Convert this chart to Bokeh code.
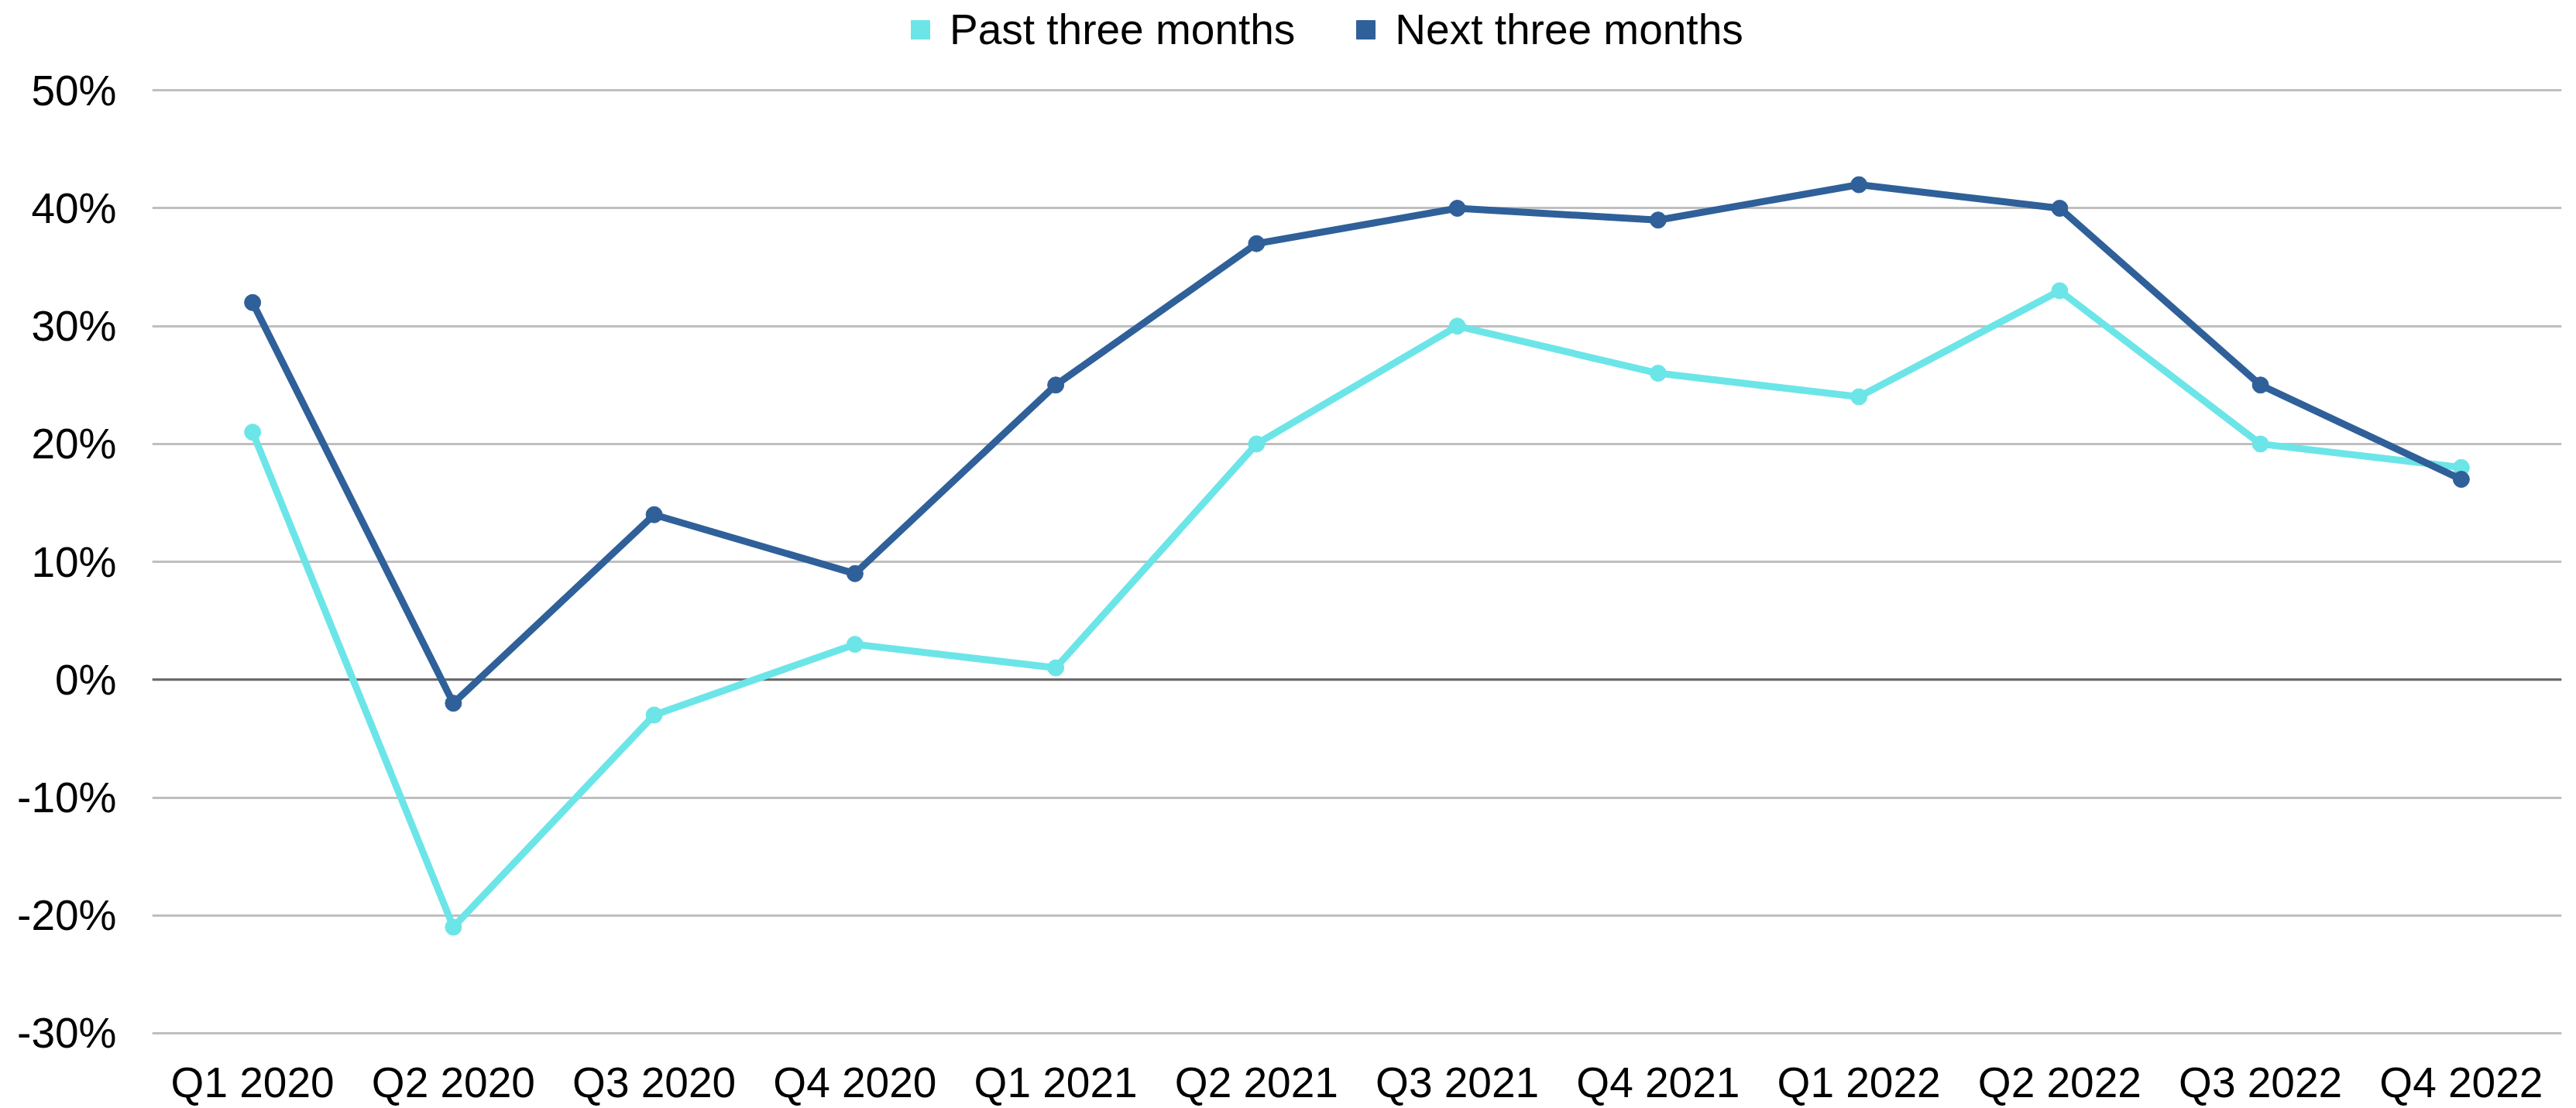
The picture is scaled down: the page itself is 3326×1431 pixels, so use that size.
from bokeh.plotting import figure
from bokeh.models import FixedTicker, Span, Legend, LegendItem, Range1d
from bokeh.embed import file_html
from bokeh.resources import INLINE

quarters = ["Q1 2020", "Q2 2020", "Q3 2020", "Q4 2020",
            "Q1 2021", "Q2 2021", "Q3 2021", "Q4 2021",
            "Q1 2022", "Q2 2022", "Q3 2022", "Q4 2022"]
past_three_months = [21, -21, -3, 3, 1, 20, 30, 26, 24, 33, 20, 18]
next_three_months = [32, -2, 14, 9, 25, 37, 40, 39, 42, 40, 25, 17]
y_ticks = [-30, -20, -10, 0, 10, 20, 30, 40, 50]
y_tick_labels = {t: f"{t}%" for t in y_ticks}
series_names = ["Past three months", "Next three months"]

C_PAST = "#6CE5E8"
C_NEXT = "#2F6099"
FONT = "Liberation Sans"
FS = "55px"

p = figure(width=3326, height=1431, x_range=quarters,
           y_range=Range1d(-30.4, 57.64),
           output_backend="svg", toolbar_location=None,
           min_border_left=196, min_border_right=19,
           min_border_top=0, min_border_bottom=88)
p.outline_line_color = None
p.background_fill_color = "white"
p.border_fill_color = "white"

p.xgrid.grid_line_color = None
p.ygrid.grid_line_color = "#BFBFBF"
p.ygrid.grid_line_width = 3
p.yaxis.ticker = FixedTicker(ticks=y_ticks)
p.yaxis.major_label_overrides = y_tick_labels

for ax in (p.xaxis[0], p.yaxis[0]):
    ax.axis_line_color = None
    ax.major_tick_line_color = None
    ax.minor_tick_line_color = None
    ax.major_tick_out = 0
    ax.major_tick_in = 0
    ax.major_label_text_font = FONT
    ax.major_label_text_font_size = FS
    ax.major_label_text_color = "black"
p.yaxis.major_label_standoff = 46
p.xaxis.major_label_standoff = 26

zero = Span(location=0, dimension="width", line_color="#666666",
            line_width=3, level="underlay")
p.add_layout(zero)

p.line(quarters, past_three_months, line_width=9, color=C_PAST)
p.scatter(quarters, past_three_months, size=21, color=C_PAST)
p.line(quarters, next_three_months, line_width=9, color=C_NEXT)
p.scatter(quarters, next_three_months, size=21, color=C_NEXT)

# hidden square markers used only as legend swatches
leg_past = p.scatter(quarters[:1], past_three_months[:1], marker="square",
                     color=C_PAST, visible=False)
leg_next = p.scatter(quarters[:1], next_three_months[:1], marker="square",
                     color=C_NEXT, visible=False)

legend = Legend(
    items=[LegendItem(label=series_names[0], renderers=[leg_past]),
           LegendItem(label=series_names[1], renderers=[leg_next])],
    orientation="horizontal", location=(962, 1269),
    glyph_width=60, glyph_height=60, label_standoff=8, spacing=61,
    padding=0, margin=0, border_line_color=None, background_fill_alpha=0,
    inactive_fill_alpha=0,
    label_text_font=FONT, label_text_font_size=FS, label_text_color="black",
    label_height=66,
)
p.add_layout(legend)

open("out.html", "w").write(file_html(p, INLINE))
